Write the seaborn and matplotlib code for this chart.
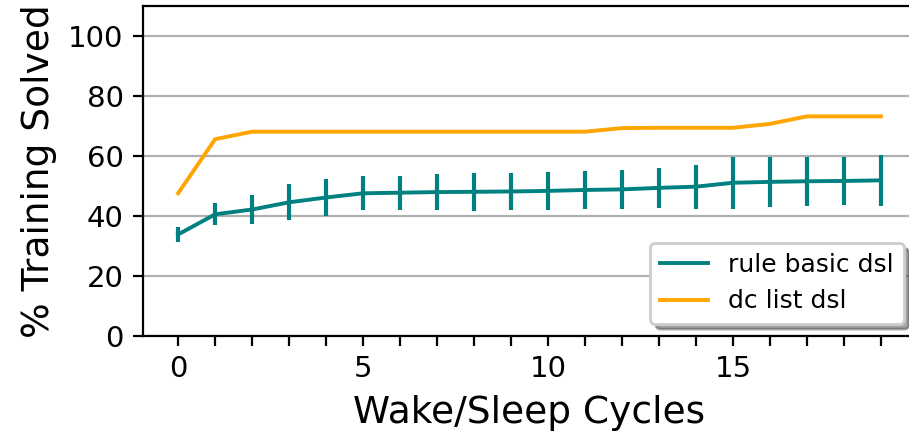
import matplotlib
matplotlib.use("Agg")
import matplotlib.pyplot as plt
import seaborn as sns
import numpy as np
import pandas as pd

cycles = list(range(20))
rule_basic_mean = [33.8, 40.5, 42.1, 44.5, 46.1, 47.5, 47.7, 47.9, 48.0, 48.1,
                   48.3, 48.6, 48.8, 49.3, 49.7, 51.0, 51.3, 51.5, 51.6, 51.8]
rule_basic_err = [2.5, 3.7, 4.7, 6.0, 6.2, 5.6, 5.6, 6.1, 6.3, 6.3,
                  6.4, 6.4, 6.4, 6.7, 7.3, 8.6, 8.4, 8.1, 8.1, 8.6]
dc_list_mean = [47.5, 65.5, 68.0, 68.0, 68.0, 68.0, 68.0, 68.0, 68.0, 68.0,
                68.0, 68.0, 69.2, 69.3, 69.3, 69.3, 70.6, 73.1, 73.1, 73.1]
series_names = ["rule basic dsl", "dc list dsl"]
colors = ["#008080", "#FFA500"]

df = pd.DataFrame({
    "cycle": cycles * 2,
    "solved": rule_basic_mean + dc_list_mean,
    "series": [series_names[0]] * 20 + [series_names[1]] * 20,
})

fig = plt.figure(figsize=(9.09 / 2, 4.33 / 2), dpi=200)
ax = fig.add_axes([143 / 909, 97 / 433, (916 - 143) / 909, (336 - 5.5) / 433])

sns.lineplot(data=df, x="cycle", y="solved", hue="series",
             palette=dict(zip(series_names, colors)), errorbar=None,
             linewidth=1.4, ax=ax, legend=True)
ax.errorbar(cycles, rule_basic_mean, yerr=rule_basic_err, fmt="none",
            ecolor=colors[0], elinewidth=1.5, capsize=0)

ax.set_ylim(0, 110)
ax.set_xlim(-0.95, 19.95)
ax.set_yticks([0, 20, 40, 60, 80, 100])
ax.set_xticks(cycles)
ax.set_xticklabels([str(c) if c % 5 == 0 else "" for c in cycles])
ax.tick_params(axis="both", labelsize=10.5)
ax.yaxis.grid(True, color="#b0b0b0", linewidth=0.8)
ax.set_axisbelow(True)
ax.set_xlabel("Wake/Sleep Cycles", fontsize=13.5)
ax.set_ylabel("% Training Solved", fontsize=13.5)
leg = ax.legend(loc="lower right", fontsize=9, shadow=True, frameon=True,
                handlelength=1.9)

fig.savefig("out.png", dpi=200)
